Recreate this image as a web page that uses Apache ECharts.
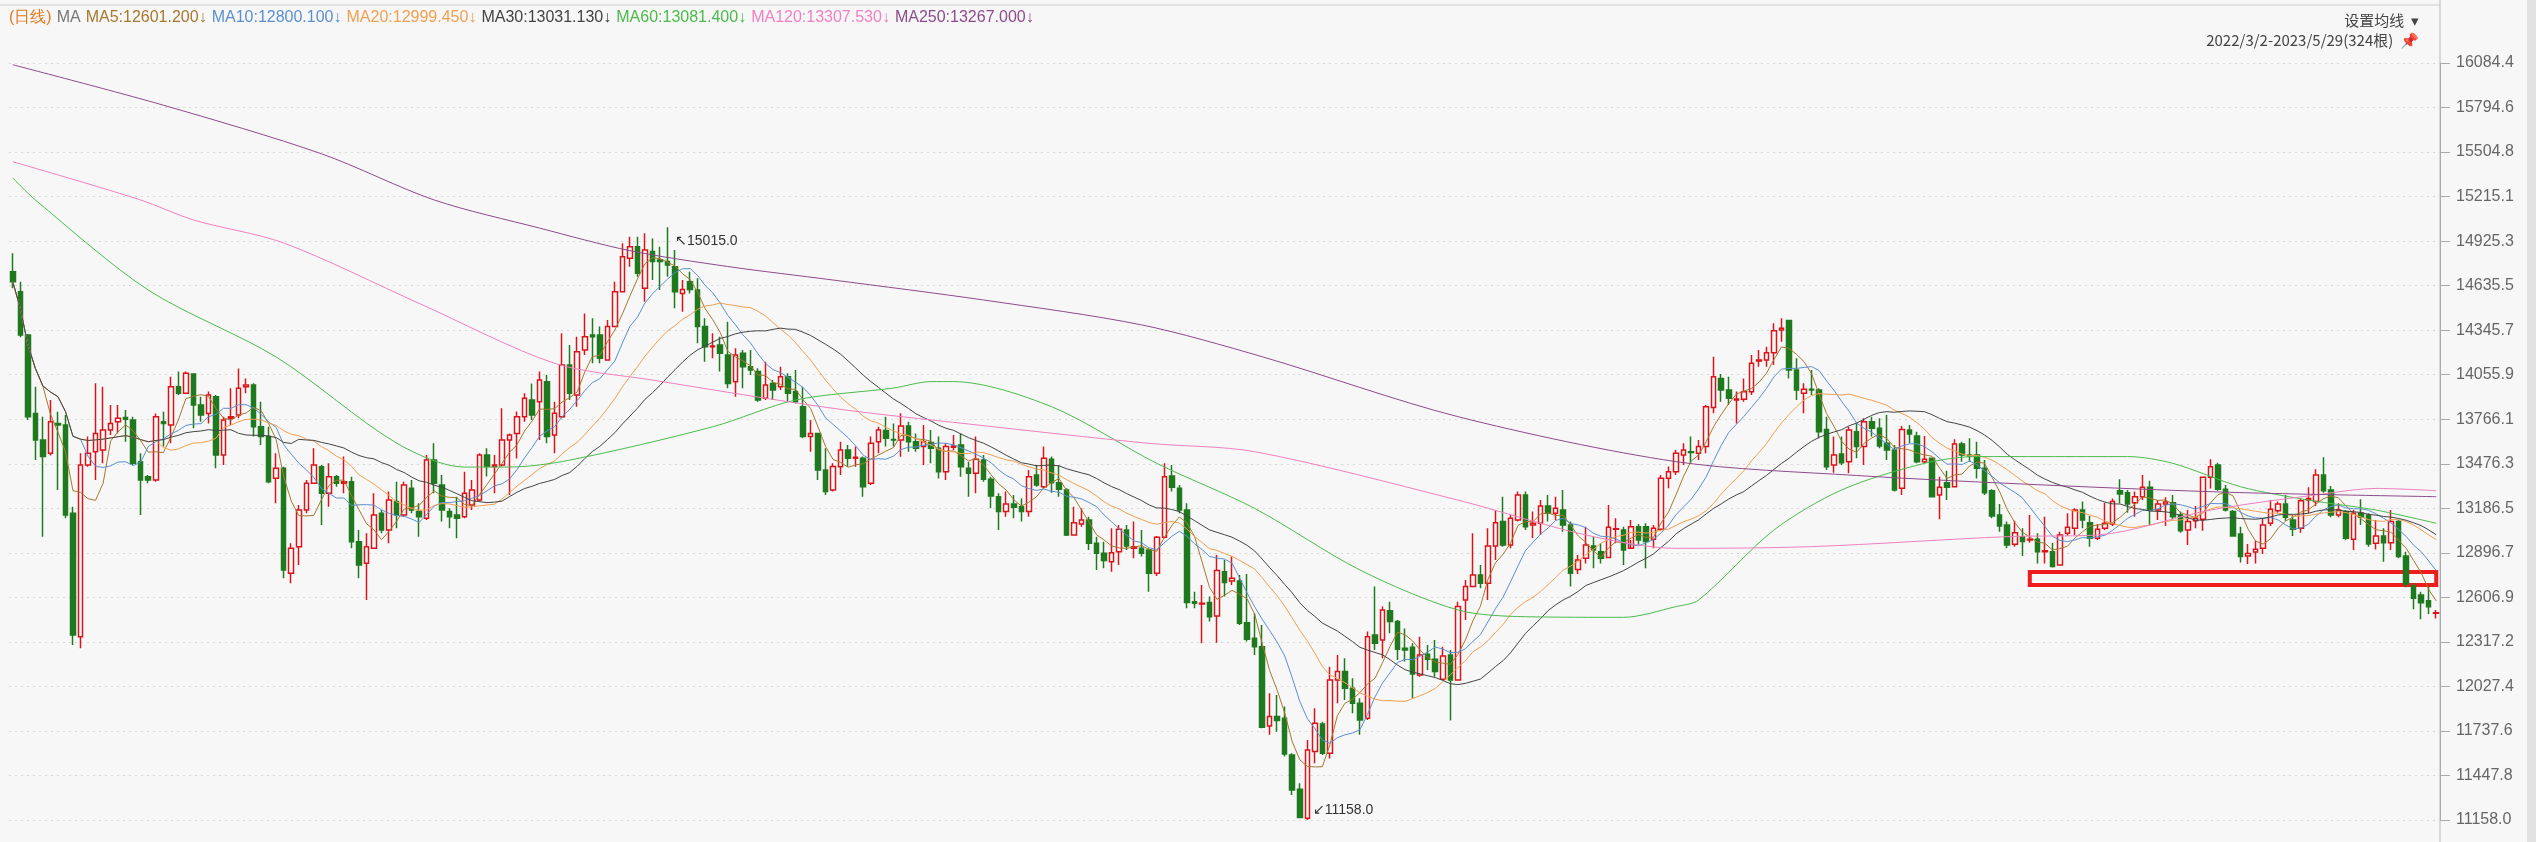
<!DOCTYPE html>
<html><head><meta charset="utf-8">
<script src="https://cdn.jsdelivr.net/npm/echarts@6/dist/echarts.min.js"></script>
<style>html,body{margin:0;padding:0;background:#f7f7f7}#c{width:2536px;height:842px}</style>
</head><body><div id="c"></div>
<script>
// OHLC: [open, close, low, high]
const candles = [
[14726,14661,14618,14846],[14596,14314,14300,14661],[14314,13783,13761,14320],[13804,13631,13501,13978],[13631,13523,13002,13783],
[13544,13750,13530,13891],[13739,13728,13306,13815],[13728,13143,13121,13794],[13154,12362,12297,13197],[12351,13468,12275,13544],
[13468,13544,13457,13653],[13555,13674,13371,14000],[13566,13696,13479,13978],[13696,13739,13663,13859],[13750,13772,13674,13859],
[13778,13766,13620,13826],[13761,13479,13468,13783],[13490,13371,13143,13544],[13392,13371,13349,13403],[13371,13783,13360,13804],
[13750,13739,13588,13815],[13728,13978,13609,14043],[13978,13935,13924,14076],[13935,14065,13935,14076],[14060,13859,13707,14065],
[13859,13794,13750,13913],[13804,13924,13739,13946],[13913,13534,13447,13924],[13534,13761,13468,13783],[13772,13783,13728,13967],
[13794,13967,13772,14097],[13978,13989,13935,14032],[13989,13718,13653,14000],[13718,13653,13598,13880],[13653,13360,13349,13718],
[13382,13447,13219,13544],[13447,12785,12731,13457],[12764,12926,12698,12959],[12937,13176,12818,13208],[13176,13349,13154,13371],
[13349,13468,13349,13577],[13457,13284,13078,13468],[13284,13392,13197,13479],[13392,13349,13327,13403],[13349,13360,13284,13523],
[13360,12969,12926,13392],[12969,12818,12731,13045],[12829,12937,12590,13024],[12926,13143,12926,13284],[13154,13045,13024,13176],
[13045,13240,12959,13295],[13230,13143,13056,13360],[13143,13338,13132,13360],[13317,13176,13154,13371],[13165,13132,13002,13219],
[13121,13501,13111,13534],[13501,13349,13284,13609],[13338,13176,13100,13403],[13165,13132,13056,13186],[13143,13121,12991,13262],
[13132,13284,13121,13425],[13208,13306,13176,13371],[13240,13533,13230,13544],[13533,13458,13393,13577],[13458,13468,13284,13534],
[13468,13631,13458,13837],[13631,13663,13273,13674],[13674,13783,13511,13816],[13783,13902,13750,13935],[13891,13794,13761,13999],
[13880,14021,13631,14076],[14010,13653,13609,14054],[13663,13805,13544,13880],[13783,14119,13772,14325],[14119,13935,13891,14249],
[13924,14206,13848,14303],[14217,14303,14184,14455],[14314,14303,14130,14423],[14314,14163,14130,14369],[14152,14369,14152,14412],
[14369,14596,14369,14661],[14596,14824,14596,14911],[14813,14889,14759,14954],[14889,14716,14694,14954],[14618,14867,14531,14976],
[14857,14792,14672,14943],[14802,14792,14607,14889],[14792,14770,14694,15015],[14759,14596,14488,14867],[14585,14611,14466,14672],
[14661,14611,14585,14726],[14607,14369,14260,14683],[14369,14238,14141,14423],[14238,14243,14163,14325],[14249,14195,14076,14303],
[14184,13999,13967,14401],[14010,14184,13913,14228],[14195,14108,13967,14217],[14108,14087,14054,14217],[14076,13891,13880,14098],
[13902,13989,13891,14141],[13999,13957,13891,14021],[13978,14043,13957,14108],[14043,13935,13880,14065],[13946,13880,13869,14087],
[13848,13653,13642,13978],[13653,13674,13555,13761],[13674,13436,13371,13674],[13436,13295,13273,13577],[13306,13458,13295,13479],
[13457,13566,13403,13620],[13566,13512,13457,13598],[13512,13518,13457,13588],[13512,13327,13262,13523],[13349,13609,13338,13653],
[13620,13696,13544,13718],[13692,13642,13588,13783],[13635,13631,13588,13739],[13631,13722,13522,13805],[13722,13620,13555,13750],
[13620,13577,13555,13674],[13588,13620,13468,13728],[13614,13577,13479,13696],[13577,13425,13381,13653],[13425,13588,13371,13609],
[13583,13592,13566,13663],[13598,13457,13392,13674],[13447,13414,13262,13490],[13414,13505,13284,13653],[13501,13375,13360,13533],
[13375,13267,13186,13392],[13262,13165,13045,13284],[13165,13214,13132,13295],[13214,13193,13121,13273],[13197,13165,13100,13251],
[13165,13392,13132,13436],[13403,13338,13327,13468],[13327,13512,13317,13588],[13505,13353,13288,13523],[13353,13310,13262,13468],
[13306,13013,13006,13317],[13013,13093,13013,13197],[13084,13110,13067,13186],[13110,12959,12915,13132],[12959,12894,12785,13002],
[12894,12846,12796,12969],[12839,12898,12774,13056],[12904,13050,12818,13078],[13045,12941,12915,13078],[12926,12937,12861,13100],
[12926,12894,12872,13045],[12915,12763,12644,12926],[12763,12998,12746,13006],[12998,13392,12991,13479],[13397,13323,13295,13468],
[13317,13175,13154,13338],[13175,12573,12536,13219],[12579,12568,12536,12644],[12564,12568,12308,12688],[12573,12481,12449,12612],
[12486,12781,12312,12883],[12774,12703,12612,12850],[12713,12731,12688,12872],[12713,12438,12427,12753],[12442,12334,12319,12759],
[12340,12286,12232,12503],[12286,11761,11755,12427],[11770,11831,11712,11983],[11831,11805,11733,11972],[11820,11588,11571,11896],
[11581,11353,11321,11592],[11358,11175,11170,11397],[11169,11614,11158,11679],[11603,11788,11527,11885],[11783,11592,11581,11798],
[11592,12069,11559,12156],[12069,12124,11918,12232],[12124,12015,11939,12210],[12015,11918,11853,12080],[11918,11809,11712,11950],
[11820,12351,11809,12384],[12362,12308,12264,12677],[12330,12525,12210,12547],[12520,12449,12373,12579],[12449,12269,12199,12460],
[12275,12264,12189,12405],[12282,12108,11950,12308],[12102,12232,12091,12351],[12236,12204,12134,12297],[12204,12124,12091,12330],
[12074,12226,12069,12286],[12232,12069,11805,12264],[12069,12547,12065,12579],[12590,12677,12460,12720],[12677,12753,12677,13024],
[12753,12698,12666,12818],[12698,12941,12590,13056],[12941,13093,12850,13176],[13100,12948,12937,13262],[12948,13121,12926,13143],
[13110,13273,13100,13295],[13273,13067,13045,13295],[13078,13089,12991,13165],[13089,13201,13013,13240],[13201,13154,13100,13273],
[13154,13186,13110,13262],[13176,13078,13034,13306],[13078,12763,12677,13100],[12789,12850,12759,12883],[12861,12948,12828,13067],
[12941,12915,12796,13002],[12904,12861,12828,12959],[12867,13063,12861,13208],[13050,13054,12959,13121],[13045,12915,12818,13067],
[12926,13067,12980,13110],[13067,12980,12948,13084],[13067,12970,12796,13089],[12985,13056,12926,13078],[13050,13382,13045,13403],
[13382,13425,13317,13458],[13425,13544,13403,13566],[13533,13566,13468,13609],[13555,13550,13479,13653],[13544,13588,13501,13631],
[13588,13848,13544,13859],[13843,14043,13805,14173],[14032,13956,13880,14060],[13956,13902,13859,14043],[13891,13898,13739,13946],
[13896,13945,13880,14032],[13945,14130,13924,14184],[14145,14152,14108,14217],[14152,14199,14108,14238],[14199,14342,14119,14390],
[14347,14358,14271,14423],[14408,14087,14032,14408],[14087,13956,13891,14163],[13935,13961,13805,14000],[13961,13956,13924,14087],
[13956,13685,13642,13967],[13700,13457,13436,13783],[13468,13533,13418,13653],[13540,13483,13468,13653],[13490,13696,13414,13718],
[13685,13588,13512,13739],[13588,13750,13468,13772],[13750,13707,13653,13783],[13707,13592,13577,13772],[13609,13566,13501,13794],
[13566,13306,13295,13598],[13317,13700,13273,13722],[13696,13670,13609,13728],[13657,13490,13479,13685],[13490,13505,13479,13657],
[13512,13262,13262,13512],[13273,13323,13115,13392],[13353,13323,13241,13431],[13327,13605,13323,13636],[13605,13533,13490,13620],
[13533,13527,13490,13642],[13533,13447,13381,13620],[13447,13288,13273,13501],[13301,13136,13121,13310],[13143,13071,13034,13215],
[13078,12948,12926,13100],[12952,13028,12937,13106],[13002,12970,12876,13056],[12980,12985,12963,13143],[12985,12904,12828,13024],
[12904,12911,12828,13132],[12904,12807,12802,12963],[12817,13013,12817,13034],[13024,13063,13006,13154],[13056,13176,13013,13186],
[13176,13110,13056,13230],[13093,12991,12937,13136],[12991,13050,12980,13084],[13056,13089,13045,13223],[13084,13230,13071,13251],
[13301,13280,13219,13375],[13288,13215,13158,13306],[13223,13262,13132,13295],[13262,13323,13240,13403],[13323,13175,13078,13366],
[13175,13215,13110,13240],[13215,13228,13071,13258],[13223,13132,13115,13273],[13143,13041,13028,13165],[13045,13100,12948,13175],
[13106,13121,13056,13201],[13115,13388,13041,13392],[13388,13457,13316,13505],[13468,13310,13301,13483],[13310,13175,13165,13338],
[13165,13006,13002,13175],[13019,12872,12833,13067],[12876,12893,12824,12954],[12902,12920,12828,12976],[12926,13078,12889,13121],
[13089,13180,13071,13240],[13171,13215,13158,13230],[13215,13128,13106,13273],[13110,13050,13006,13143],[13056,13236,13028,13251],
[13240,13251,13154,13323],[13230,13403,13201,13440],[13403,13301,13288,13518],[13306,13143,13128,13331],[13143,13175,13128,13219],
[13165,12991,12980,13175],[12985,13154,12915,13175],[13154,13128,13078,13245],[13143,12954,12937,13154],[12959,13006,12919,13110],
[13006,12963,12839,13056],[12963,13100,12915,13175],[13100,12872,12861,13110],[12876,12694,12672,12904],[12681,12601,12529,12698],
[12622,12572,12464,12644],[12585,12546,12499,12677],[12503,12507,12470,12525]
];
// long moving averages at sample bars: [barIndex, value]
const ma60Pts = [[0,15337],[3,15193],[18,14607],[35,14171],[51,13611],[60,13455],[66,13455],[74,13500],[93,13717],[104,13891],[117,13969],[122,14011],[125,14011],[138,13848],[152,13479],[165,13186],[179,12785],[192,12525],[201,12481],[214,12477],[221,12547],[224,12590],[234,13045],[243,13306],[254,13479],[261,13523],[270,13523],[281,13523],[287,13479],[296,13327],[305,13240],[314,13175],[322,13089]];
const ma120Pts = [[0,15442],[17,15193],[24,15063],[36,14913],[54,14520],[72,14130],[85,14021],[109,13837],[127,13735],[151,13609],[165,13555],[192,13240],[209,13013],[221,12926],[239,12937],[265,13002],[277,13013],[292,13175],[307,13280],[314,13316],[322,13301]];
const ma250Pts = [[0,16073],[20,15810],[41,15494],[56,15193],[70,15010],[82,14863],[95,14760],[109,14672],[129,14542],[150,14380],[166,14173],[192,13783],[221,13490],[245,13400],[270,13338],[295,13290],[322,13262]];
const legendNames = ['MA5','MA10','MA20','MA30','MA60','MA120','MA250'];
const legendVals = ['12601.200','12800.100','12999.450','13031.130','13081.400','13307.530','13267.000'];
const maColors = ['#a5782d','#5b8fd0','#f0a050','#444444','#4cbb4c','#f080c0','#8e4a8e'];
const yTicks = ['11158.0','11447.8','11737.6','12027.4','12317.2','12606.9','12896.7','13186.5','13476.3','13766.1','14055.9','14345.7','14635.5','14925.3','15215.1','15504.8','15794.6','16084.4'];

const n = candles.length;
const cats = candles.map((_, i) => i);
function ma(w){
  return candles.map((c, i) => {
    const s = Math.max(0, i - w + 1); let t = 0;
    for (let k = s; k <= i; k++) t += candles[k][1];
    return +(t / (i - s + 1)).toFixed(2);
  });
}
function sparse(pts){ const a = new Array(n).fill(null); pts.forEach(p => a[p[0]] = p[1]); return a; }
const maData = [ma(5), ma(10), ma(20), ma(30), sparse(ma60Pts), sparse(ma120Pts), sparse(ma250Pts)];

const rich = { d:{color:'#e07a20',fontSize:16,fontWeight:'normal'}, m:{color:'#777',fontSize:16,fontWeight:'normal'} };
let txt = '{d|(日线)} {m|MA} ';
legendNames.forEach((nm, i) => { rich['c'+i] = {color: maColors[i], fontSize:16, fontWeight:'normal'}; txt += '{c'+i+'|'+nm+':'+legendVals[i]+'↓} '; });

const minV = 11158.0, maxV = 16084.4, step = (maxV - minV) / 17;
const chart = echarts.init(document.getElementById('c'));
chart.setOption({
  animation: false,
  backgroundColor: '#f7f7f7',
  title: [
    { text: txt, left: 4, top: 4, textStyle: { rich: rich, fontWeight: 'normal', fontFamily: 'Liberation Sans' } },
    { text: '设置均线  ▾', right: 112, top: 8, textStyle: { fontSize: 15, color: '#444', fontWeight: 'normal', fontFamily: 'Noto Sans CJK SC' } },
    { text: '2022/3/2-2023/5/29(324根)  📌', right: 112, top: 28, textStyle: { fontSize: 15, color: '#444', fontWeight: 'normal', fontFamily: 'Noto Sans CJK SC' } }
  ],
  grid: { left: 9, right: 96, top: 63, bottom: 22 },
  xAxis: { type: 'category', data: cats, boundaryGap: true, show: false },
  yAxis: {
    type: 'value', position: 'right', min: minV, max: maxV, interval: step, scale: true,
    axisLine: { show: true, lineStyle: { color: '#aaa' } },
    axisTick: { show: true, inside: false, length: 10, lineStyle: { color: '#aaa' } },
    axisLabel: { color: '#666', fontSize: 16, margin: 16, fontFamily: 'Liberation Sans', formatter: (v) => { const i = Math.round((v - minV) / step); return yTicks[i] || ''; } },
    splitLine: { show: true, lineStyle: { color: '#d8d8d8', type: [2, 4] } }
  },
  series: [
    {
      type: 'candlestick', data: candles, barWidth: 5,
      itemStyle: { color: '#f7f7f7', color0: '#1f7a1f', borderColor: '#d9141b', borderColor0: '#1f7a1f', borderWidth: 1.5 },
      markPoint: {
        symbol: 'circle', symbolSize: 1, itemStyle: { color: 'rgba(0,0,0,0)' },
        data: [
          { coord: [87, 15015], label: { show: true, formatter: '↖15015.0', position: 'right', offset: [2, 14], color: '#333', fontSize: 14 } },
          { coord: [172, 11158], label: { show: true, formatter: '↙11158.0', position: 'right', offset: [0, -10], color: '#333', fontSize: 14 } }
        ]
      },
      markArea: {
        silent: true,
        itemStyle: { color: 'rgba(0,0,0,0)', borderColor: '#ee1c1c', borderWidth: 4, borderRadius: 8 },
        data: [[{ coord: [268, 12772] }, { coord: [322, 12687] }]]
      }
    }
  ].concat(maData.map((d, i) => ({
    type: 'line', data: d, showSymbol: false, connectNulls: true, smooth: i >= 4 ? 0.3 : false,
    lineStyle: { width: 1, color: maColors[i] }, z: 3
  }))),
  graphic: [
    { type: 'line', shape: { x1: 0, y1: 5, x2: 2440, y2: 5 }, style: { stroke: '#cfcfcf', lineWidth: 1 } },
    { type: 'rect', shape: { x: 2527, y: 0, width: 9, height: 842 }, style: { fill: '#e2e2e2' } },
    { type: 'line', shape: { x1: 2440, y1: 0, x2: 2440, y2: 842 }, style: { stroke: '#bbb', lineWidth: 1 } }
  ]
});
</script></body></html>
